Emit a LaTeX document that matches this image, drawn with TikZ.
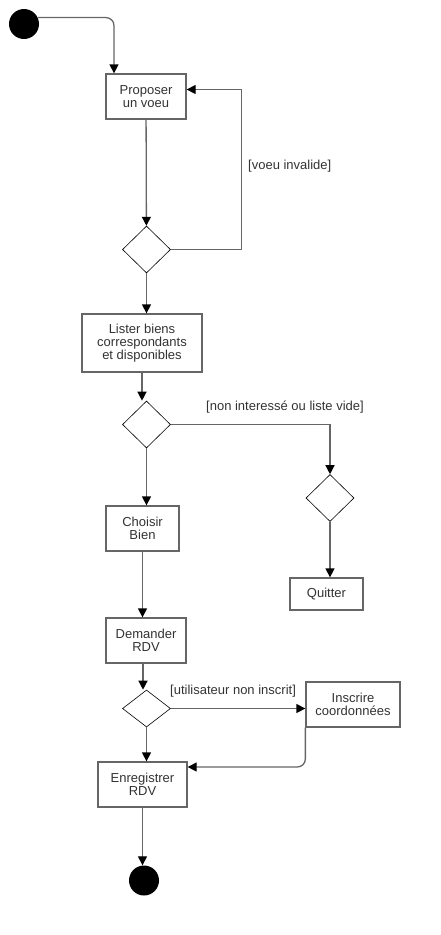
\documentclass[tikz,border=0pt]{standalone}
\usepackage{fontspec}
\setmainfont{Liberation Sans}
\usepackage{xcolor}
\usepackage{tikz}
\usetikzlibrary{arrows.meta,shapes.geometric}
\definecolor{ligne}{HTML}{666666}
\definecolor{texte}{HTML}{333333}

\begin{document}
\begin{tikzpicture}[x=1pt,y=-1pt,
  etat/.style={draw=ligne,line width=1.3pt,fill=white,text=texte,align=center,inner sep=0pt,font=\fontsize{13}{13}\selectfont},
  choix/.style={diamond,draw=black,line width=0.6pt,fill=white,minimum width=48pt,minimum height=47pt,inner sep=0pt},
  rond/.style={circle,fill=black,minimum size=30pt,inner sep=0pt},
  fleche/.style={draw=ligne,line width=1.3pt,-{Triangle[length=9pt,width=9pt,color=black]}},
  garde/.style={text=texte,inner sep=0pt,font=\fontsize{13}{13}\selectfont}]
  \useasboundingbox (0,0) rectangle (440,935);

  \node[rond] (debut) at (24,24) {};
  \node[etat,minimum width=80pt,minimum height=45pt] (proposer) at (146,96.5) {Proposer\\un voeu};
  \node[choix] (c1) at (146.5,249.5) {};
  \node[etat,minimum width=120pt,minimum height=58pt] (lister) at (142,343) {Lister biens\\correspondants\\et disponibles};
  \node[choix] (c2) at (146.5,424.5) {};
  \node[choix] (c3) at (330,498) {};
  \node[etat,minimum width=73pt,minimum height=32pt] (quitter) at (326.5,594) {Quitter};
  \node[etat,minimum width=73pt,minimum height=45pt] (choisir) at (142.5,528.5) {Choisir\\Bien};
  \node[etat,minimum width=80pt,minimum height=45pt] (demander) at (146,640.5) {Demander\\RDV};
  \node[choix,minimum height=37pt] (c4) at (146.5,708.5) {};
  \node[etat,minimum width=94pt,minimum height=45pt] (inscrire) at (353,704.5) {Inscrire\\coordonnées};
  \node[etat,minimum width=89pt,minimum height=45pt] (enregistrer) at (142.5,784.5) {Enregistrer\\RDV};
  \node[rond] (fin) at (144,880.5) {};

  \draw[fleche,rounded corners=8pt] (debut.25) -| ([xshift=-32pt]proposer.north);
  \draw[fleche] (proposer) -- (c1);
  \draw[fleche] (c1.east) -- ++(71,0) |- ([yshift=7pt]proposer.east);
  \node[garde,anchor=west] (g1) at (248,166) {[voeu invalide]};
  \draw[fleche] (c1.south) -- (c1.south |- lister.north);
  \draw[fleche] (lister.south) -- (lister.south |- c2.north);
  \draw[fleche] (c2.east) -| (c3.north);
  \node[garde,anchor=west] (g2) at (206,407) {[non interessé ou liste vide]};
  \draw[fleche] (c3.south) -- (c3.south |- quitter.north);
  \draw[fleche] (c2.south) -- (c2.south |- choisir.north);
  \draw[fleche] (choisir.south) -- (choisir.south |- demander.north);
  \draw[fleche] ([xshift=-3pt]demander.south) -- ([xshift=-3pt]demander.south |- c4.north);
  \draw[fleche] (c4.east) -- (c4.east -| inscrire.west);
  \node[garde,anchor=west] (g3) at (170,691) {[utilisateur non inscrit]};
  \draw[fleche] (c4.south) -- (c4.south |- enregistrer.north);
  \draw[fleche,rounded corners=8pt] (inscrire.south west) |- ([yshift=17.5pt]enregistrer.east);
  \draw[fleche] (enregistrer.south) -- (enregistrer.south |- fin.north);
\end{tikzpicture}
\end{document}
